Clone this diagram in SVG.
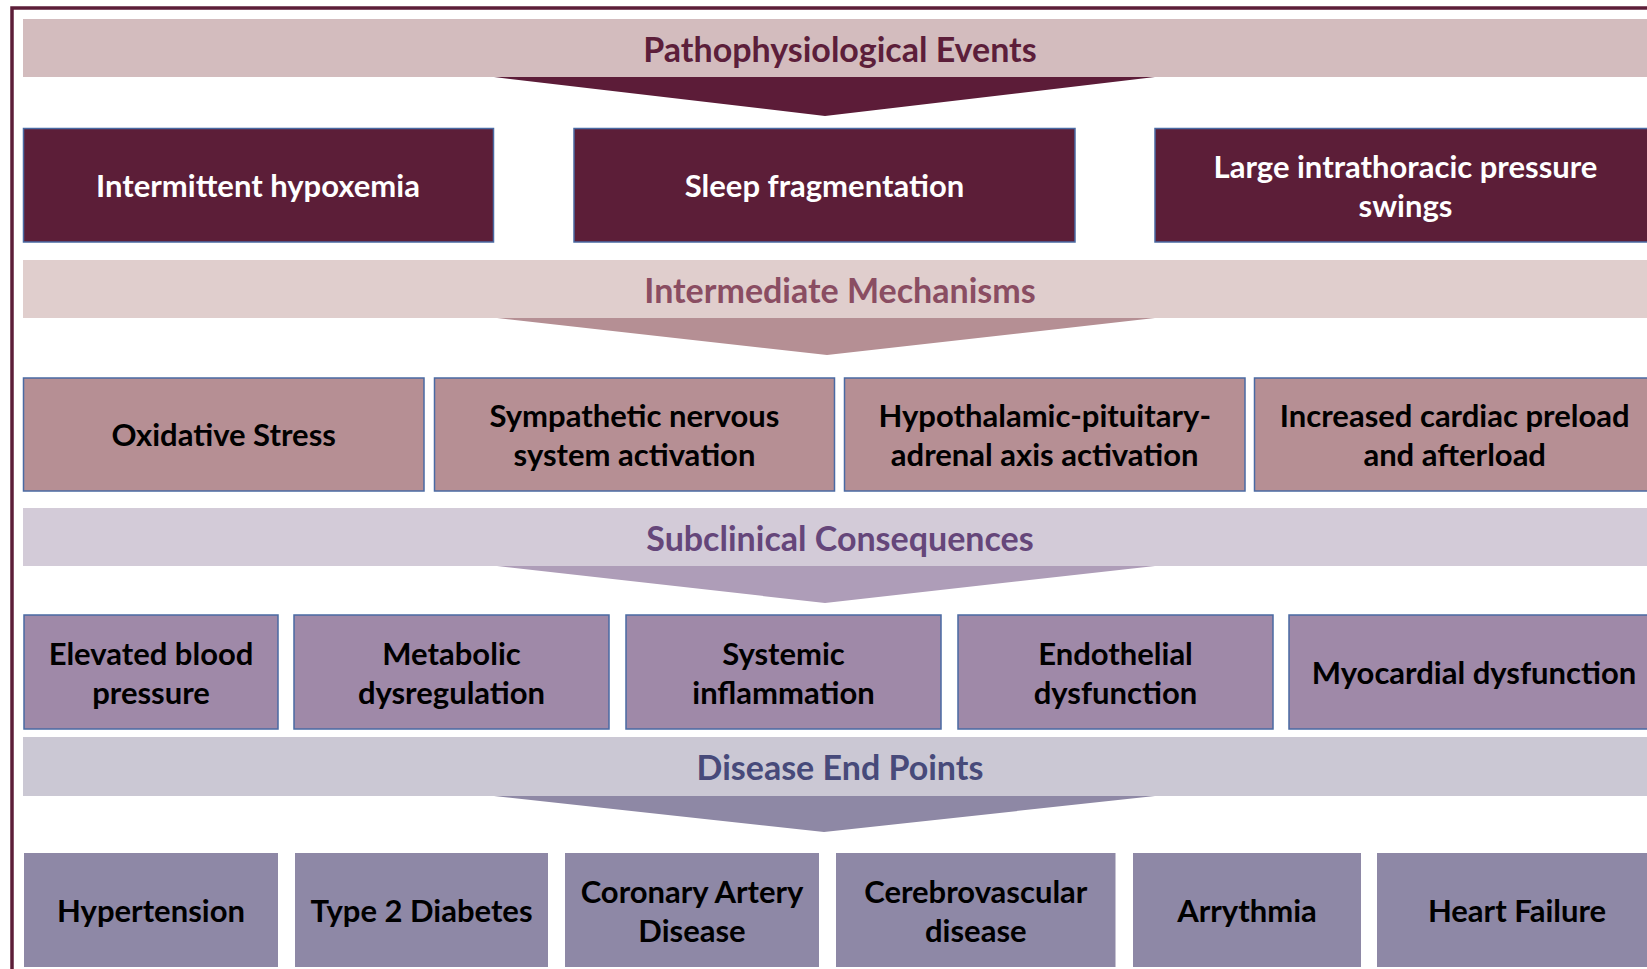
<svg xmlns="http://www.w3.org/2000/svg" width="1647" height="969" viewBox="0 0 1647 969">
  <style>
    text { font-family: Lato, "Open Sans", "Liberation Sans", sans-serif; font-weight: 700; text-anchor: middle; }
    .hdr { font-size: 34px; }
    .lbl { font-size: 31px; }
    .box1 { fill: #5c1e38; stroke: #4a6aa3; stroke-width: 1.5; }
    .box2 { fill: #b68f94; stroke: #4a6aa3; stroke-width: 1.5; }
    .box3 { fill: #9f89a8; stroke: #4a6aa3; stroke-width: 1.5; }
    .box4 { fill: #8e88a6; }
    .t1 { fill: #ffffff; }
    .t2, .t3, .t4 { fill: #000000; }
  </style>

  <rect width="1647" height="969" fill="#ffffff"/>

  <!-- outer frame -->
  <rect x="12" y="8" width="1700" height="1000" fill="none" stroke="#5c1e38" stroke-width="3.5"/>

  <!-- level headers -->
  <g id="hdr-events">
    <rect x="23" y="19" width="1640" height="58" fill="#d3bcbe"/>
    <text class="hdr" x="840" y="61.5" fill="#5c1e3a">Pathophysiological Events</text>
  </g>
  <g id="hdr-mechanisms">
    <rect x="23" y="260" width="1640" height="58" fill="#e0cecd"/>
    <text class="hdr" x="840" y="303" fill="#8a4d62">Intermediate Mechanisms</text>
  </g>
  <g id="hdr-subclinical">
    <rect x="23" y="508" width="1640" height="58" fill="#d3cbd8"/>
    <text class="hdr" x="840" y="551" fill="#65467a">Subclinical Consequences</text>
  </g>
  <g id="hdr-endpoints">
    <rect x="23" y="737" width="1640" height="59" fill="#cbc8d4"/>
    <text class="hdr" x="840" y="780" fill="#474a7a">Disease End Points</text>
  </g>

  <!-- downward chevrons between levels -->
  <g id="connectors">
    <polygon points="494,77 1155,77 825,116" fill="#5c1c38"/>
    <polygon points="497,318 1155,318 827,355" fill="#b58f94"/>
    <polygon points="497,566 1155,566 825,603" fill="#ae9db8"/>
    <polygon points="494,796 1155,796 824,832" fill="#8e88a5"/>
  </g>

  <!-- level 1: pathophysiological events -->
  <g id="hypoxemia">
    <rect class="box1" x="23.5" y="128.5" width="470" height="113.5"/>
    <text class="lbl t1" x="258" y="196.5">Intermittent hypoxemia</text>
  </g>
  <g id="fragmentation">
    <rect class="box1" x="574" y="128.5" width="501" height="113.5"/>
    <text class="lbl t1" x="824.5" y="196.5">Sleep fragmentation</text>
  </g>
  <g id="pressure-swings">
    <rect class="box1" x="1155" y="128.5" width="502" height="113.5"/>
    <text class="lbl t1" x="1405.5" y="178"><tspan x="1405.5">Large intrathoracic pressure</tspan><tspan x="1405.5" dy="39">swings</tspan></text>
  </g>

  <!-- level 2: intermediate mechanisms -->
  <g id="oxidative">
    <rect class="box2" x="23.5" y="378" width="400.5" height="113"/>
    <text class="lbl t2" x="223.7" y="446">Oxidative Stress</text>
  </g>
  <g id="sympathetic">
    <rect class="box2" x="434.5" y="378" width="400" height="113"/>
    <text class="lbl t2" x="634.5" y="427"><tspan x="634.5">Sympathetic nervous</tspan><tspan x="634.5" dy="39">system activation</tspan></text>
  </g>
  <g id="hpa-axis">
    <rect class="box2" x="844.5" y="378" width="400.5" height="113"/>
    <text class="lbl t2" x="1044.7" y="427"><tspan x="1044.7">Hypothalamic-pituitary-</tspan><tspan x="1044.7" dy="39">adrenal axis activation</tspan></text>
  </g>
  <g id="cardiac-load">
    <rect class="box2" x="1254.5" y="378" width="400.5" height="113"/>
    <text class="lbl t2" x="1454.7" y="427"><tspan x="1454.7">Increased cardiac preload</tspan><tspan x="1454.7" dy="39">and afterload</tspan></text>
  </g>

  <!-- level 3: subclinical consequences -->
  <g id="blood-pressure">
    <rect class="box3" x="24" y="615" width="254" height="114"/>
    <text class="lbl t3" x="151" y="664.5"><tspan x="151">Elevated blood</tspan><tspan x="151" dy="39">pressure</tspan></text>
  </g>
  <g id="metabolic">
    <rect class="box3" x="294" y="615" width="315" height="114"/>
    <text class="lbl t3" x="451.5" y="664.5"><tspan x="451.5">Metabolic</tspan><tspan x="451.5" dy="39">dysregulation</tspan></text>
  </g>
  <g id="inflammation">
    <rect class="box3" x="626" y="615" width="315" height="114"/>
    <text class="lbl t3" x="783.5" y="664.5"><tspan x="783.5">Systemic</tspan><tspan x="783.5" dy="39">inflammation</tspan></text>
  </g>
  <g id="endothelial">
    <rect class="box3" x="958" y="615" width="315" height="114"/>
    <text class="lbl t3" x="1115.5" y="664.5"><tspan x="1115.5">Endothelial</tspan><tspan x="1115.5" dy="39">dysfunction</tspan></text>
  </g>
  <g id="myocardial">
    <rect class="box3" x="1289" y="615" width="370" height="114"/>
    <text class="lbl t3" x="1474" y="684">Myocardial dysfunction</text>
  </g>

  <!-- level 4: disease end points -->
  <g id="hypertension">
    <rect class="box4" x="24" y="853" width="254" height="114"/>
    <text class="lbl t4" x="151" y="922">Hypertension</text>
  </g>
  <g id="diabetes">
    <rect class="box4" x="295" y="853" width="253" height="114"/>
    <text class="lbl t4" x="421.5" y="922">Type 2 Diabetes</text>
  </g>
  <g id="cad">
    <rect class="box4" x="565" y="853" width="254" height="114"/>
    <text class="lbl t4" x="692" y="902.5"><tspan x="692">Coronary Artery</tspan><tspan x="692" dy="39">Disease</tspan></text>
  </g>
  <g id="cerebrovascular">
    <rect class="box4" x="836" y="853" width="279.5" height="114"/>
    <text class="lbl t4" x="975.8" y="902.5"><tspan x="975.8">Cerebrovascular</tspan><tspan x="975.8" dy="39">disease</tspan></text>
  </g>
  <g id="arrhythmia">
    <rect class="box4" x="1133" y="853" width="228" height="114"/>
    <text class="lbl t4" x="1247" y="922">Arrythmia</text>
  </g>
  <g id="heart-failure">
    <rect class="box4" x="1377" y="853" width="280" height="114"/>
    <text class="lbl t4" x="1517" y="922">Heart Failure</text>
  </g>
</svg>
